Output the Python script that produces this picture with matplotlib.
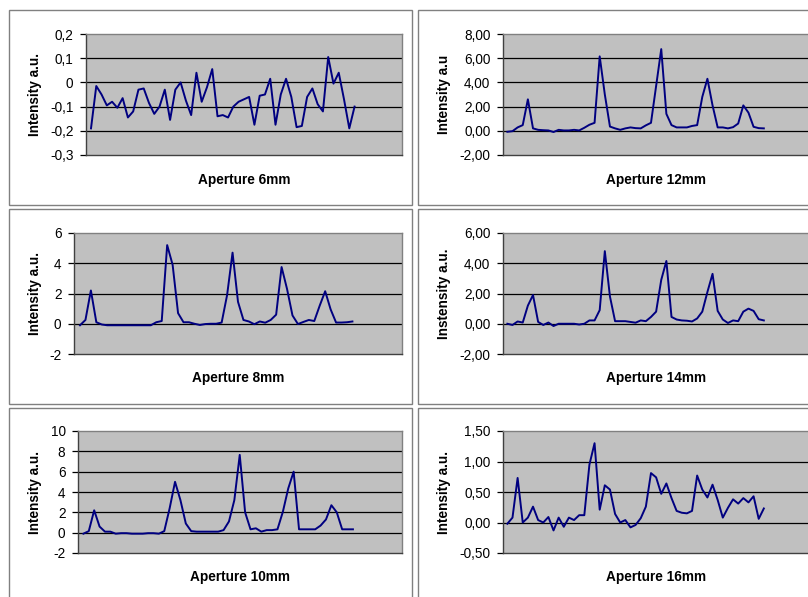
import matplotlib
matplotlib.use("Agg")
import matplotlib.pyplot as plt
from matplotlib.patches import Rectangle

plt.rcParams['font.family'] = ['Liberation Sans', 'DejaVu Sans']

# ---------------- data ----------------
ap6 = [-0.19, -0.015, -0.05, -0.095, -0.08, -0.105, -0.065, -0.145, -0.12, -0.03,
       -0.025, -0.085, -0.13, -0.10, -0.03, -0.155, -0.03, 0.0, -0.075, -0.135,
       0.04, -0.08, -0.02, 0.055, -0.14, -0.135, -0.145, -0.10, -0.08, -0.07,
       -0.06, -0.175, -0.055, -0.05, 0.015, -0.175, -0.05, 0.015, -0.06, -0.185,
       -0.18, -0.06, -0.025, -0.09, -0.12, 0.105, -0.005, 0.04, -0.07, -0.19, -0.10]
ap12 = [-0.08, -0.03, 0.28, 0.47, 2.6, 0.2, 0.08, 0.05, 0.03, -0.1,
        0.08, 0.03, 0.03, 0.08, 0.03, 0.25, 0.5, 0.66, 6.15, 3.0,
        0.35, 0.2, 0.08, 0.2, 0.28, 0.22, 0.2, 0.45, 0.66, 3.7,
        6.75, 1.4, 0.47, 0.28, 0.28, 0.28, 0.4, 0.47, 2.8, 4.3,
        2.1, 0.28, 0.28, 0.2, 0.3, 0.6, 2.1, 1.5, 0.33, 0.22, 0.2]
ap8 = [-0.1, 0.25, 2.2, 0.1, -0.05, -0.1, -0.1, -0.1, -0.1, -0.1,
       -0.1, -0.1, -0.1, -0.1, 0.1, 0.18, 5.2, 3.9, 0.7, 0.1,
       0.1, 0.0, -0.08, -0.02, 0.0, 0.0, 0.08, 1.9, 4.7, 1.45,
       0.25, 0.15, -0.03, 0.15, 0.07, 0.25, 0.6, 3.75, 2.3, 0.55,
       -0.02, 0.12, 0.25, 0.18, 1.2, 2.15, 0.95, 0.08, 0.08, 0.1, 0.15]
ap14 = [0.0, -0.08, 0.15, 0.08, 1.2, 1.9, 0.12, -0.08, 0.08, -0.15,
        0.0, 0.0, 0.0, 0.0, -0.05, 0.0, 0.22, 0.22, 0.9, 4.8,
        1.8, 0.17, 0.17, 0.17, 0.12, 0.07, 0.22, 0.17, 0.45, 0.8,
        2.9, 4.15, 0.45, 0.28, 0.22, 0.2, 0.15, 0.35, 0.8, 2.1,
        3.3, 0.85, 0.28, 0.05, 0.22, 0.17, 0.8, 1.0, 0.85, 0.3, 0.22]
ap10 = [-0.1, 0.15, 2.2, 0.6, 0.1, 0.1, -0.1, -0.05, -0.05, -0.1,
        -0.1, -0.1, -0.05, -0.05, -0.1, 0.15, 2.4, 5.0, 3.2, 0.9,
        0.15, 0.1, 0.1, 0.1, 0.1, 0.1, 0.25, 1.1, 3.2, 7.65,
        2.0, 0.33, 0.43, 0.1, 0.25, 0.25, 0.33, 2.05, 4.35, 6.0,
        0.33, 0.33, 0.33, 0.33, 0.7, 1.3, 2.7, 2.0, 0.33, 0.33, 0.33]
ap16 = [-0.02, 0.08, 0.73, 0.0, 0.08, 0.26, 0.04, 0.0, 0.09, -0.13,
        0.08, -0.07, 0.08, 0.04, 0.12, 0.12, 0.95, 1.3, 0.21, 0.61,
        0.54, 0.14, 0.0, 0.04, -0.08, -0.04, 0.07, 0.26, 0.81, 0.74,
        0.47, 0.64, 0.4, 0.19, 0.16, 0.15, 0.19, 0.77, 0.54, 0.41,
        0.62, 0.37, 0.08, 0.24, 0.38, 0.31, 0.4, 0.33, 0.43, 0.06, 0.23]

ticks6 = [-0.3, -0.2, -0.1, 0.0, 0.1, 0.2]
labels6 = ["-0,3", "-0,2", "-0,1", "0", "0,1", "0,2"]
ticks12 = [-2, 0, 2, 4, 6, 8]
labels12 = ["-2,00", "0,00", "2,00", "4,00", "6,00", "8,00"]
ticks8 = [-2, 0, 2, 4, 6]
labels8 = ["-2", "0", "2", "4", "6"]
ticks14 = [-2, 0, 2, 4, 6]
labels14 = ["-2,00", "0,00", "2,00", "4,00", "6,00"]
ticks10 = [-2, 0, 2, 4, 6, 8, 10]
labels10 = ["-2", "0", "2", "4", "6", "8", "10"]
ticks16 = [-0.5, 0.0, 0.5, 1.0, 1.5]
labels16 = ["-0,50", "0,00", "0,50", "1,00", "1,50"]

titles = ["Aperture 6mm", "Aperture 12mm", "Aperture 8mm",
          "Aperture 14mm", "Aperture 10mm", "Aperture 16mm"]
ylabels = ["Intensity a.u.", "Intensity a.u", "Intensity a.u.",
           "Instensity a.u.", "Intensity a.u.", "Intensity a.u."]

# ---------------- layout (pixels) ----------------
W, H = 808, 597
fig = plt.figure(figsize=(W / 100, H / 100), dpi=100)
fig.patch.set_facecolor("white")

def fx(x):
    return x / W

def fy(y):
    return 1 - y / H

# chart frames (x0, y0, x1, y1)
frames = [(9, 10, 412, 205), (418, 10, 830, 205),
          (9, 209, 412, 404), (418, 209, 830, 404),
          (9, 408, 412, 620), (418, 408, 830, 620)]
for (x0, y0, x1, y1) in frames:
    fig.patches.append(Rectangle((fx(x0), fy(y1)), fx(x1) - fx(x0), fy(y0) - fy(y1),
                                 transform=fig.transFigure, fill=False,
                                 edgecolor="#808080", linewidth=1.0))

# plot areas (x0, y0, x1, y1), xlim
panels = [
    (ap6, ticks6, labels6, (86, 34, 402, 155), (-0.95, 59)),
    (ap12, ticks12, labels12, (503, 34, 810, 155), (-0.85, 59)),
    (ap8, ticks8, labels8, (74, 233, 402, 354), (-1.1, 59.1)),
    (ap14, ticks14, labels14, (503, 233, 810, 354), (-0.85, 59)),
    (ap10, ticks10, labels10, (78, 431, 402, 553), (-1.0, 59.1)),
    (ap16, ticks16, labels16, (503, 431, 810, 553), (-0.85, 59)),
]
xlabel_y = [180, 180, 378, 378, 577, 577]
ylabel_x = [35, 444, 35, 444, 35, 444]

FS = 9.8
for k, (vals, tks, lbls, (x0, y0, x1, y1), xl) in enumerate(panels):
    ax = fig.add_axes([fx(x0), fy(y1), fx(x1) - fx(x0), fy(y0) - fy(y1)])
    ax.set_facecolor("#C0C0C0")
    ax.plot(range(len(vals)), vals, color="#000080", linewidth=1.4, zorder=3)
    ax.set_xlim(*xl)
    ax.set_ylim(tks[0], tks[-1])
    ax.set_yticks(tks)
    ax.set_yticklabels(lbls)
    for t in tks[1:-1]:
        ax.axhline(t, color="black", linewidth=0.9, zorder=2)
    ax.set_xticks([])
    ax.tick_params(axis="y", direction="out", length=4.5, width=0.9,
                   color="black", pad=4.5, labelsize=FS, labelcolor="black")
    for side in ("top", "right"):
        ax.spines[side].set_color("#808080")
        ax.spines[side].set_linewidth(1.0)
    for side in ("left", "bottom"):
        ax.spines[side].set_color("#404040")
        ax.spines[side].set_linewidth(1.0)
    cx = (x0 + min(x1, 810)) / 2
    fig.text(fx(cx), fy(xlabel_y[k]), titles[k], ha="center", va="center",
             fontsize=FS, fontweight="bold")
    fig.text(fx(ylabel_x[k]), fy((y0 + y1) / 2), ylabels[k], ha="center",
             va="center", rotation=90, fontsize=FS, fontweight="bold")

fig.savefig("out.png", dpi=100, facecolor="white")
